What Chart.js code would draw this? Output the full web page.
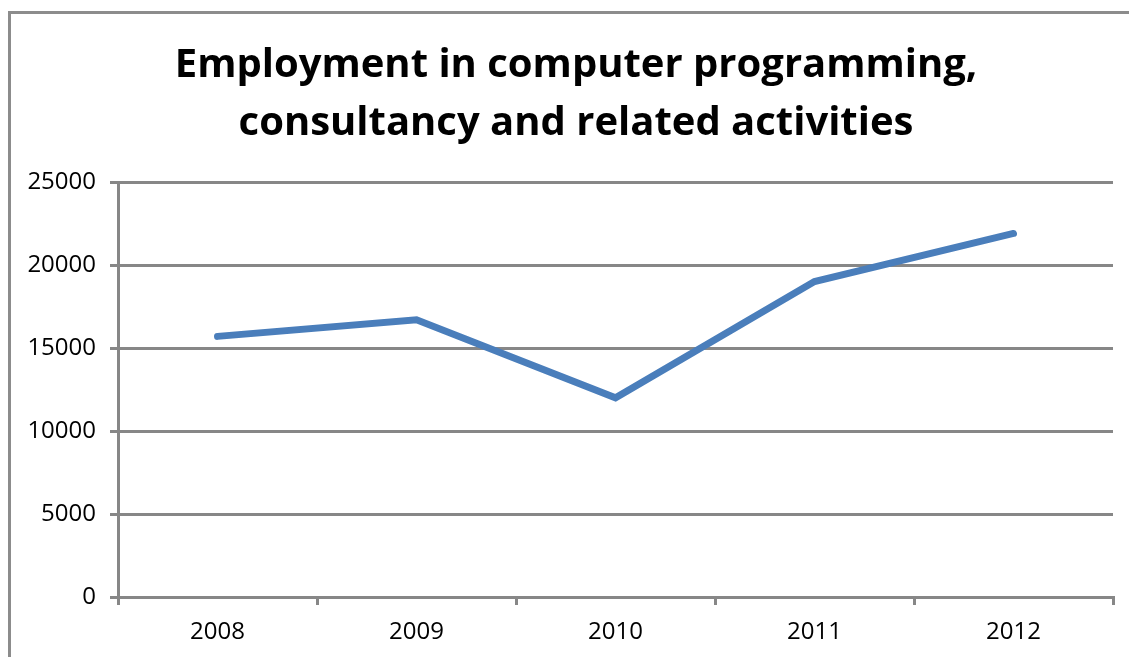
<!DOCTYPE html>
<html>
<head>
<meta charset="utf-8">
<script src="https://cdn.jsdelivr.net/npm/chart.js@4.4.1/dist/chart.umd.min.js"></script>
<style>
  html, body { margin: 0; padding: 0; background: #fff; }
  #wrap { position: relative; width: 1129px; height: 657px; overflow: hidden; }
  #frame { position: absolute; left: 8px; top: 11px; width: 1300px; height: 800px;
           border-left: 3px solid #8c8c8c; border-top: 3px solid #8c8c8c; }
  canvas { position: absolute; left: 0; top: 0; }
</style>
</head>
<body>
<div id="wrap">
  <div id="frame"></div>
  <canvas id="myChart" width="1129" height="657"></canvas>
</div>
<script>
const years = ['2008', '2009', '2010', '2011', '2012'];
const employment = [15700, 16700, 12000, 19000, 21900];
const titleLines = ['Employment in computer programming,', 'consultancy and related activities'];

const gray = '#878787';

// the built-in title centres on the canvas minus padding, which sits ~20px too far left,
// so the two title lines are drawn here instead
const titlePlugin = {
  id: 'frameTitle',
  afterDraw(chart) {
    const c = chart.ctx;
    c.save();
    c.fillStyle = '#000';
    c.font = 'bold 40px "Open Sans"';
    c.textAlign = 'center';
    c.textBaseline = 'alphabetic';
    for (let i = 0; i < titleLines.length; i++) {
      c.fillText(titleLines[i], 576, 77 + i * 58);
    }
    c.restore();
  }
};

let ctx = document.getElementById('myChart').getContext('2d');
let myChart = new Chart(ctx, {
  type: 'line',
  data: {
    labels: years,
    datasets: [{
      label: 'Employment',
      data: employment,
      borderColor: '#4a7ebb',
      borderWidth: 7,
      borderCapStyle: 'round',
      borderJoinStyle: 'miter',
      tension: 0,
      pointRadius: 0,
      fill: false
    }]
  },
  plugins: [titlePlugin],
  options: {
    responsive: false,
    animation: false,
    layout: { padding: { left: 0, right: 16, top: 182, bottom: 0 } },
    plugins: {
      legend: { display: false },
      tooltip: { enabled: false },
      title: { display: false }
    },
    scales: {
      x: {
        offset: true,
        grid: { offset: true, drawOnChartArea: false, color: gray, lineWidth: 3, tickLength: 8 },
        border: { color: gray, width: 3 },
        ticks: { color: '#000', font: { family: 'Open Sans', size: 24 }, padding: 13 },
        afterFit: function(scale) { scale.height = 60; }
      },
      y: {
        min: 0,
        max: 25000,
        ticks: {
          stepSize: 5000,
          color: '#000',
          font: { family: 'Open Sans', size: 24 },
          padding: 14,
          callback: function(v) { return String(v); }
        },
        grid: { color: gray, lineWidth: 3, tickLength: 8 },
        border: { color: gray, width: 3 },
        afterFit: function(scale) { scale.width = 118; }
      }
    }
  }
});
</script>
</body>
</html>
